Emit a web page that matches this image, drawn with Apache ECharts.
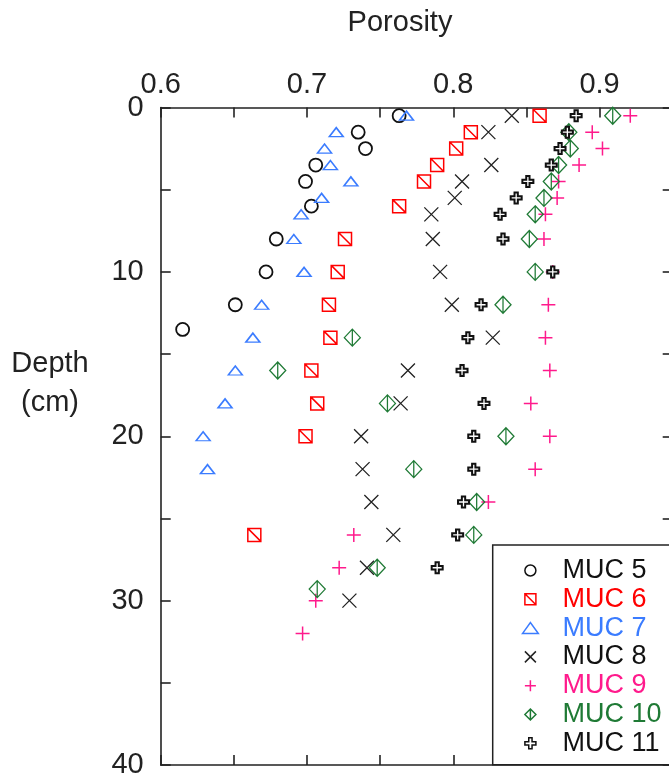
<!DOCTYPE html>
<html>
<head>
<meta charset="utf-8">
<script src="https://cdn.jsdelivr.net/npm/echarts@6/dist/echarts.min.js"></script>
<style>
html,body{margin:0;padding:0;background:#fff;}
#chart{width:669px;height:782px;}
</style>
</head>
<body>
<div id="chart"></div>
<script>
// ---- data (porosity vs depth, cm) ----
const seriesNames = ['MUC 5','MUC 6','MUC 7','MUC 8','MUC 9','MUC 10','MUC 11'];

const muc5Depth = [0.5,1.5,2.5,3.5,4.5,6,8,10,12,13.5];
const muc5Por   = [0.763,0.735,0.740,0.706,0.699,0.703,0.679,0.672,0.651,0.615];

const muc6Depth = [0.5,1.5,2.5,3.5,4.5,6,8,10,12,14,16,18,20,26];
const muc6Por   = [0.859,0.812,0.802,0.789,0.780,0.763,0.726,0.721,0.715,0.716,0.703,0.707,0.699,0.664];

const muc7Depth = [0.5,1.5,2.5,3.5,4.5,5.5,6.5,8,10,12,14,16,18,20,22];
const muc7Por   = [0.768,0.720,0.712,0.716,0.730,0.710,0.696,0.691,0.698,0.669,0.663,0.651,0.644,0.629,0.632];

const muc8Depth = [0.5,1.5,3.5,4.5,5.5,6.5,8,10,12,14,16,18,20,22,24,26,28,30];
const muc8Por   = [0.840,0.824,0.826,0.806,0.801,0.785,0.786,0.791,0.799,0.827,0.769,0.764,0.737,0.738,0.744,0.759,0.741,0.729];

const muc9Depth = [0.5,1.5,2.5,3.5,4.5,5.5,6.5,8,10,12,14,16,18,20,22,24,26,28,30,32];
const muc9Por   = [0.921,0.895,0.902,0.886,0.872,0.871,0.863,0.862,0.868,0.865,0.863,0.866,0.853,0.866,0.856,0.824,0.732,0.722,0.706,0.697];

const muc10Depth = [0.5,1.5,2.5,3.5,4.5,5.5,6.5,8,10,12,14,16,18,20,22,24,26,28,29.3];
const muc10Por   = [0.909,0.879,0.880,0.872,0.867,0.862,0.856,0.852,0.856,0.834,0.731,0.680,0.755,0.836,0.773,0.816,0.814,0.748,0.707];

const muc11Depth = [0.5,1.5,2.5,3.5,4.5,5.5,6.5,8,10,12,14,16,18,20,22,24,26,28];
const muc11Por   = [0.884,0.878,0.873,0.867,0.851,0.843,0.832,0.834,0.868,0.819,0.810,0.806,0.821,0.814,0.814,0.807,0.803,0.789];

const xTickLabels = ['0.6','0.7','0.8','0.9'];
const yTickLabels = ['0','10','20','30','40'];

// ---- build ----
function pairs(por, depth){ return por.map((p,i)=>[p, depth[i]]); }

const colors = ['#111111','#ff0000','#3b7cff','#222222','#ff1a8c','#1f7a35','#111111'];
const textColors = ['#111111','#ff0000','#3b7cff','#111111','#ff1a8c','#1f7a35','#111111'];
const symbols = [
  'circle',
  'path://M0,0L12,0L12,12L0,12ZM0,0L12,12',
  'path://M0,9L6.5,0L13,9Z',
  'path://M0,0L12,12M12,0L0,12',
  'path://M6,0L6,12M0,6L12,6',
  'path://M8,0L16,8L8,16L0,8ZM8,0L8,16',
  'path://M3.5,0L6.5,0L6.5,3.5L10,3.5L10,6.5L6.5,6.5L6.5,10L3.5,10L3.5,6.5L0,6.5L0,3.5L3.5,3.5Z'
];
const sizes = [13, 13, [14,9], 14, 14, [16,17], 11];
const fills = ['transparent','transparent','transparent','transparent','transparent','transparent','#ffffff'];
const strokeW = [1.8,1.5,1.5,1.3,1.5,1.3,2];

const dataSets = [
  pairs(muc5Por, muc5Depth),
  pairs(muc6Por, muc6Depth),
  pairs(muc7Por, muc7Depth),
  pairs(muc8Por, muc8Depth),
  pairs(muc9Por, muc9Depth),
  pairs(muc10Por, muc10Depth),
  pairs(muc11Por, muc11Depth)
];

const FONT = '"Liberation Sans", Arial, Helvetica, sans-serif';
const AX = '#222';

const series = seriesNames.map((n,i)=>({
  name: n,
  type: 'scatter',
  xAxisIndex: 0,
  yAxisIndex: 0,
  symbol: symbols[i],
  symbolSize: sizes[i],
  data: dataSets[i],
  itemStyle: { color: fills[i], borderColor: colors[i], borderWidth: strokeW[i], opacity: 1 },
  emphasis: { disabled: true },
  z: 3 + i
}));

const chart = echarts.init(document.getElementById('chart'), null, {renderer:'canvas'});
const option = {
  animation: false,
  backgroundColor: '#ffffff',
  title: [
    { text: 'Porosity', left: 400, top: 8, padding: 0, textAlign: 'center',
      textStyle: { fontFamily: FONT, fontSize: 29, fontWeight: 'normal', color: AX } },
    { text: 'Depth\n(cm)', left: 50, top: 344, padding: 0, textAlign: 'center',
      textStyle: { fontFamily: FONT, fontSize: 29, fontWeight: 'normal', color: AX, lineHeight: 39, align: 'center' } }
  ],
  grid: { left: 160.7, top: 107.5, width: 512, height: 657.5, containLabel: false, outerBoundsMode: 'none' },
  xAxis: [
    { type: 'value', position: 'top', min: 0.6, max: 0.95, interval: 0.05,
      axisLine: { show: true, lineStyle: { color: AX, width: 1.6 } },
      axisTick: { show: true, inside: true, length: 10, lineStyle: { color: AX, width: 1.6 } },
      splitLine: { show: false },
      axisLabel: { margin: 8, fontFamily: FONT, fontSize: 29, color: AX, hideOverlap: false,
        formatter: v => { const s = v.toFixed(2); return xTickLabels.indexOf(v.toFixed(1)) >= 0 && s.endsWith('0') ? v.toFixed(1) : ''; } } },
    { type: 'value', position: 'bottom', min: 0.6, max: 0.95, interval: 0.05,
      axisLine: { show: true, onZero: false, lineStyle: { color: AX, width: 1.6 } },
      axisTick: { show: true, inside: true, length: 10, lineStyle: { color: AX, width: 1.6 } },
      splitLine: { show: false }, axisLabel: { show: false } }
  ],
  yAxis: [
    { type: 'value', inverse: true, min: 0, max: 40, interval: 5,
      axisLine: { show: true, onZero: false, lineStyle: { color: AX, width: 1.6 } },
      axisTick: { show: true, inside: true, length: 10, lineStyle: { color: AX, width: 1.6 } },
      splitLine: { show: false },
      axisLabel: { margin: 17, fontFamily: FONT, fontSize: 29, color: AX, hideOverlap: false,
        formatter: v => yTickLabels.indexOf(String(v)) >= 0 ? String(v) : '' } },
    { type: 'value', inverse: true, position: 'right', min: 0, max: 40, interval: 5,
      axisLine: { show: true, onZero: false, lineStyle: { color: AX, width: 1.6 } },
      axisTick: { show: true, inside: true, length: 10, lineStyle: { color: AX, width: 1.6 } },
      splitLine: { show: false }, axisLabel: { show: false } }
  ],
  legend: {
    orient: 'vertical', left: 492.7, top: 545,
    padding: [12, 40, 8, 29],
    itemWidth: 54, itemHeight: 11, itemGap: 1.8,
    backgroundColor: '#ffffff', borderColor: AX, borderWidth: 1.5, borderRadius: 0,
    selectedMode: false,
    itemStyle: { borderWidth: 1.5 },
    textStyle: { fontFamily: FONT, fontSize: 27 },
    data: seriesNames.map((n,i)=>({ name: n, textStyle: { color: textColors[i] } }))
  },
  series: series
};
chart.setOption(option);
</script>
</body>
</html>
